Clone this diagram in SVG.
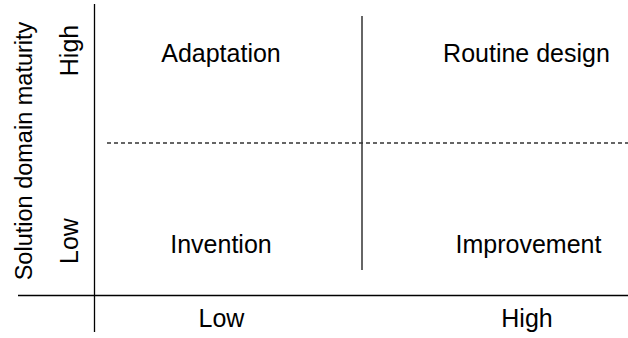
<svg xmlns="http://www.w3.org/2000/svg" width="628" height="338" viewBox="0 0 628 338">
<style>
text{font-family:"Liberation Sans",Arial,sans-serif;font-size:25px;fill:#000;text-anchor:middle}
.sm{font-size:23.5px}
.ax{stroke:#000;stroke-width:1.3;fill:none}
.dv{stroke:#333;stroke-width:1.5;fill:none}
.ds{stroke:#333;stroke-width:1.3;stroke-dasharray:4,3;fill:none}
</style>
<rect width="628" height="338" fill="#fff"/>
<g id="connectors">
<line class="ax" x1="94.5" y1="4" x2="94.5" y2="332"/>
<line class="ax" x1="18" y1="295.5" x2="628" y2="295.5"/>
<line class="dv" x1="362" y1="16" x2="362" y2="270"/>
<line class="ds" x1="107" y1="143" x2="628" y2="143"/>
</g>
<g id="adaptation"><text x="221" y="62">Adaptation</text></g>
<g id="routine"><text x="526.5" y="62">Routine design</text></g>
<g id="invention"><text x="221" y="252.5">Invention</text></g>
<g id="improvement"><text x="528.5" y="252.5">Improvement</text></g>
<g id="xlow"><text x="221.5" y="327">Low</text></g>
<g id="xhigh"><text x="527" y="327">High</text></g>
<g id="ylabel"><text class="sm" transform="translate(31.5,151) rotate(-90)">Solution domain maturity</text></g>
<g id="yhigh"><text transform="translate(78,50.5) rotate(-90)">High</text></g>
<g id="ylow"><text transform="translate(78,241) rotate(-90)">Low</text></g>
</svg>
